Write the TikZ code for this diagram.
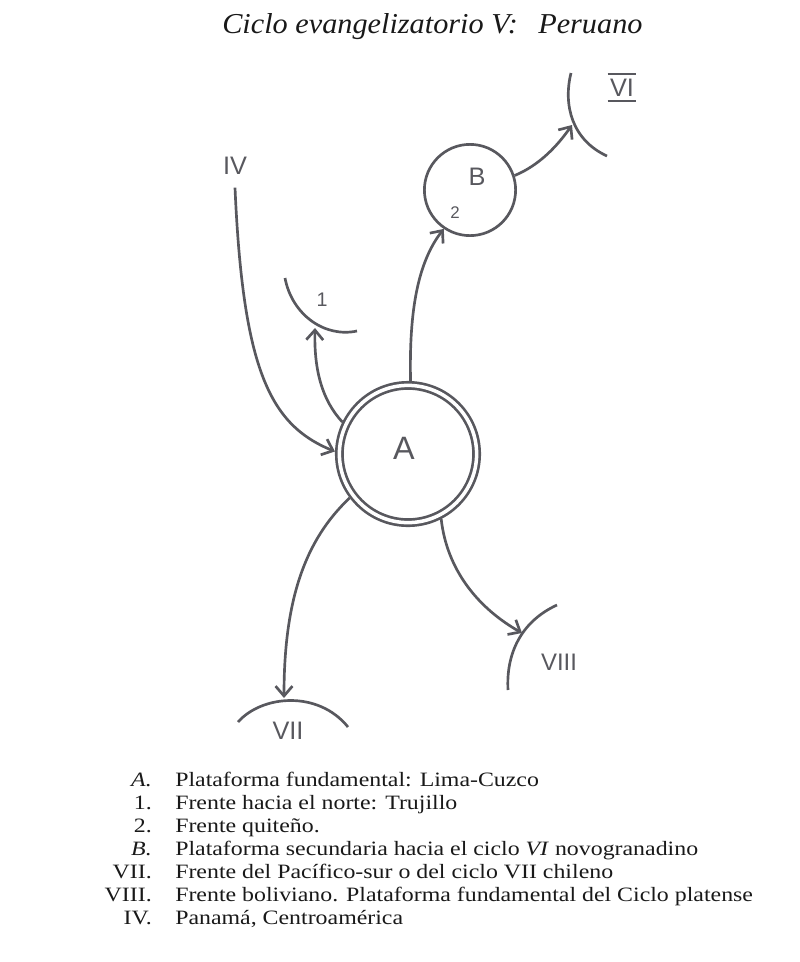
\documentclass[tikz,border=0pt]{standalone}
\usepackage{fontspec}
\setmainfont{Liberation Serif}[FakeStretch=1.17]
\newfontfamily\titlefont{Liberation Serif}[FakeStretch=1.05]
\newfontfamily\hand{Liberation Sans}
\usetikzlibrary{arrows.meta}
\definecolor{ink}{RGB}{88,88,94}
\definecolor{txt}{RGB}{25,25,25}
\begin{document}
\begin{tikzpicture}[x=0.025cm,y=-0.025cm,
  stroke/.style={draw=ink, line width=1.9pt},
  conn/.style={stroke, -{Straight Barb[length=7pt,width=12pt]}},
  front/.style={stroke},
  hlabel/.style={text=ink, inner sep=0pt, font=\hand\fontsize{#1}{#1}\selectfont},
  hlabel/.default=18,
  legtext/.style={text=txt, inner sep=0pt, anchor=base west, font=\fontsize{14.5}{16}\selectfont},
  legkey/.style={text=txt, inner sep=0pt, anchor=base east, font=\fontsize{14.5}{16}\selectfont},
  titletext/.style={text=txt, inner sep=0pt, anchor=base west, font=\titlefont\fontsize{20.5}{22}\selectfont\itshape}
]
\useasboundingbox (0,0) rectangle (800,962);

% title
\node[titletext] (t1) at (222,33) {Ciclo evangelizatorio V:};
\node[titletext] (t2) at (538,33) {Peruano};

% main platforms
\node[circle, draw=ink, line width=1.9pt, double=white, double distance=2.5pt,
      minimum size=3.43cm, inner sep=0pt, outer sep=3.2pt] (A) at (408,454) {};
\node[hlabel=23] (Alab) at (404,448) {A};

\node[circle, stroke, minimum size=2.28cm, inner sep=0pt, outer sep=0.95pt] (B) at (470,190) {};
\node[hlabel=18] (Blab) at (477,177) {B};
\node[hlabel=12] (two) at (455,213) {2};

% fronts (arcs)
\draw[front] (285,278) .. controls (292,315) and (325,338) .. (357,331);
\coordinate (f1) at (315,328);
\node[hlabel=14] (one) at (322,300) {1};

\draw[front] (571,73) .. controls (563,105) and (572,140) .. (607,156);
\coordinate (fVI) at (572,125);
\node[hlabel=18] (VI) at (622,88) {VI};
\draw[ink, line width=1.3pt] ([xshift=-1.5pt,yshift=3.5pt]VI.north west) -- ([xshift=1.5pt,yshift=3.5pt]VI.north east);
\draw[ink, line width=1.3pt] ([xshift=-1.5pt,yshift=-3pt]VI.south west) -- ([xshift=1.5pt,yshift=-3pt]VI.south east);

\draw[front] (238,722) .. controls (262,695) and (318,690) .. (348,727);
\coordinate (fVII) at (284,698);
\node[hlabel=18] (VII) at (288,731) {VII};

\draw[front] (557,605) .. controls (520,622) and (506,655) .. (508,690);
\coordinate (fVIII) at (522,633);
\node[hlabel=17] (VIII) at (559,662) {VIII};

\node[hlabel=18] (IV) at (235,166) {IV};

% connectors
\draw[conn] ([yshift=-9pt]IV.south) .. controls (243,370) and (270,425) .. (A.178);
\draw[conn] (A.154) .. controls (322,400) and (314,370) .. (f1);
\draw[conn] (A.88) .. controls (409,310) and (418,262) .. (B.236);
\draw[conn] (B.18) .. controls (540,165) and (558,145) .. (fVI);
\draw[conn] (A.217) .. controls (305,540) and (284,600) .. (fVII);
\draw[conn] (A.297) .. controls (447,570) and (478,608) .. (fVIII);

% legend
\node[legkey] (kA) at (152,786) {\itshape A.};
\node[legtext] (lA) at (175,786) {Plataforma fundamental: Lima-Cuzco};
\node[legkey] (k1) at (152,809) {1.};
\node[legtext] (l1) at (175,809) {Frente hacia el norte: Trujillo};
\node[legkey] (k2) at (152,832) {2.};
\node[legtext] (l2) at (175,832) {Frente quiteño.};
\node[legkey] (kB) at (152,855) {\itshape B.};
\node[legtext] (lB) at (175,855) {Plataforma secundaria hacia el ciclo \textit{VI} novogranadino};
\node[legkey] (k7) at (152,878) {VII.};
\node[legtext] (l7) at (175,878) {Frente del Pacífico-sur o del ciclo VII chileno};
\node[legkey] (k8) at (152,901) {VIII.};
\node[legtext] (l8) at (175,901) {Frente boliviano. Plataforma fundamental del Ciclo platense};
\node[legkey] (k4) at (152,924) {IV.};
\node[legtext] (l4) at (175,924) {Panamá, Centroamérica};
\end{tikzpicture}
\end{document}
